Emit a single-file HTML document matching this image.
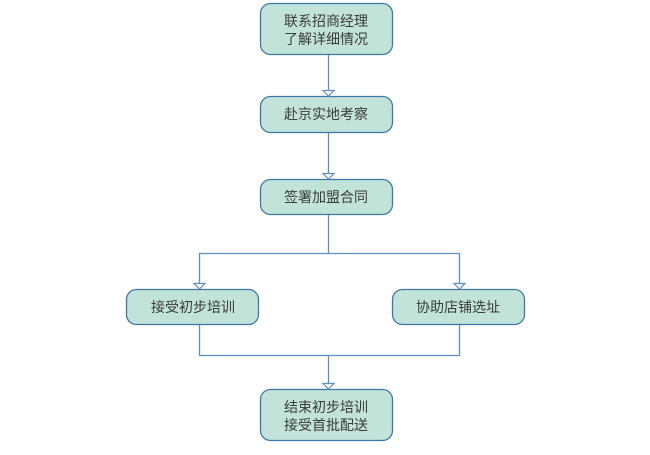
<!DOCTYPE html>
<html><head><meta charset="utf-8"><style>
html,body{margin:0;padding:0;background:#fff;width:650px;height:455px;overflow:hidden}
text{font-family:"Liberation Sans","Noto Sans CJK SC",sans-serif;font-size:14px;fill:#3a3a3a;text-anchor:middle}
</style></head><body>
<svg width="650" height="455" xmlns="http://www.w3.org/2000/svg">
<g fill="#c2e4d8" stroke="#3f76a8" stroke-width="1.3">
<rect x="260.5" y="3.5" width="132" height="51" rx="10"/>
<rect x="260.5" y="96.5" width="132" height="36" rx="10"/>
<rect x="260.5" y="179.5" width="132" height="35" rx="10"/>
<rect x="126.5" y="289.5" width="132" height="35" rx="10"/>
<rect x="392.5" y="289.5" width="132" height="35" rx="10"/>
<rect x="260.5" y="389.5" width="132" height="51" rx="10"/>
</g>
<g fill="none" stroke="#5b8fc4" stroke-width="1.3">
<path d="M328.5 55V90M328.5 133V173M328.5 215V253.5M199.5 283V253.5H459.5V283M199.5 325V355.5H459.5V325M328.5 355.5V383"/>
</g>
<g fill="#fff" stroke="#5b8fc4" stroke-width="1.2">
<path d="M323 90.5H334L328.5 96Z"/>
<path d="M323 173.5H334L328.5 179Z"/>
<path d="M194 283.5H205L199.5 289Z"/>
<path d="M454 283.5H465L459.5 289Z"/>
<path d="M323 383.5H334L328.5 389Z"/>
</g>
<text x="326" y="26">联系招商经理</text>
<text x="326" y="44">了解详细情况</text>
<text x="326" y="119">赴京实地考察</text>
<text x="326" y="202">签署加盟合同</text>
<text x="193" y="312">接受初步培训</text>
<text x="458" y="312">协助店铺选址</text>
<text x="326" y="412">结束初步培训</text>
<text x="326" y="430">接受首批配送</text>
</svg>
</body></html>
